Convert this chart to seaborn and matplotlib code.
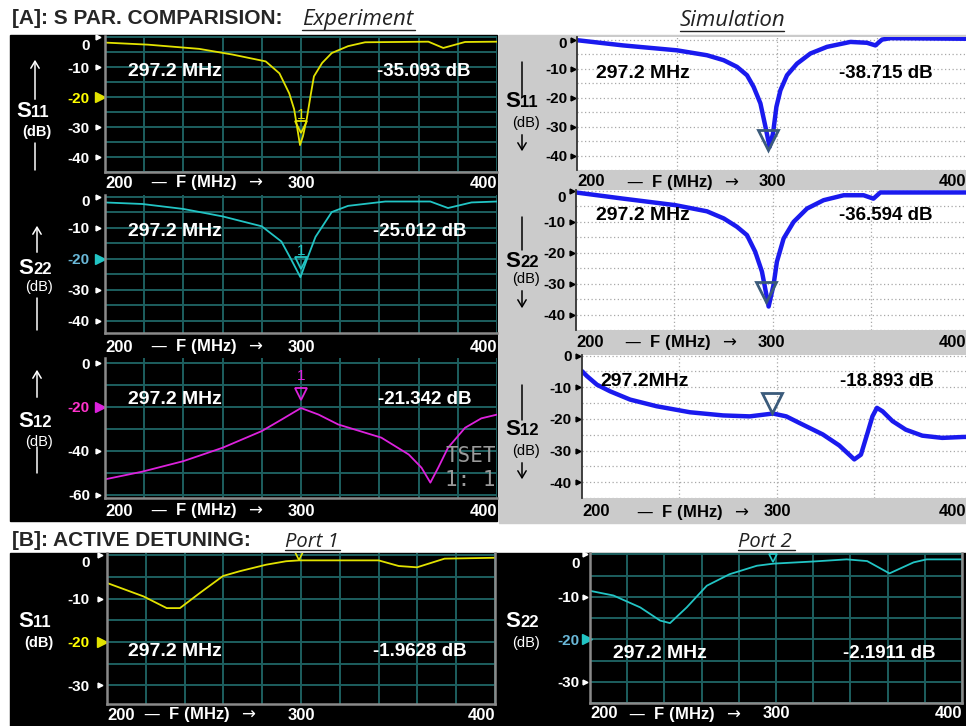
import numpy as np
import pandas as pd
import matplotlib
matplotlib.use("Agg")
import matplotlib.pyplot as plt
import matplotlib.transforms as mtransforms
from matplotlib.patches import Rectangle
import seaborn as sns

sns.set_style("white")
plt.rcParams['font.family'] = ['Liberation Sans', 'DejaVu Sans']

# ---- traces (MHz, dB) ----
exp_s11_f = [200, 222, 248, 265, 282, 289, 294, 296.5, 298.5, 299.5, 301, 303, 305, 306.6,
             310.8, 315.7, 324, 332.7, 365, 372.6, 383.7, 400]
exp_s11_db = [-1.7, -2.4, -3.8, -5.7, -8, -12, -18.7, -24, -32, -36, -33, -27, -19, -13,
              -8.5, -5.2, -2.9, -1.6, -1.4, -3.5, -1.5, -1.4]

exp_s22_f = [200, 219, 240, 260, 280, 290, 295, 299.7, 303, 307.4, 315.7, 324, 343, 366,
             375, 387, 400]
exp_s22_db = [-1.9, -2.4, -4, -6.4, -9.6, -14.5, -20.3, -26, -20.3, -13, -5, -3, -1.6, -1.6,
              -3.7, -1.9, -1.6]

exp_s12_f = [200, 219, 240, 260, 280, 290, 300, 309, 319, 341, 355, 361.5, 366, 370, 375,
             383.7, 392, 400]
exp_s12_db = [-53, -49.5, -44.7, -38.6, -31, -25.8, -20.5, -23.5, -28, -34, -41.7, -47.7,
              -54.5, -47.7, -38.6, -29.5, -25.2, -23.5]

sim_s11_f = [200, 223, 250, 265, 273.3, 280, 285, 288.3, 291.7, 294.2, 296.3, 298, 299.7,
             301.7, 305, 310, 316.7, 325, 336.7, 345, 349.2, 352.5, 356.7, 393.3, 400]
sim_s11_db = [-0.2, -2, -3.7, -5.4, -7.1, -9.4, -12.3, -16.3, -22, -30, -37, -32.4, -23.2,
              -17.5, -12.3, -8.3, -4.8, -2.5, -0.8, -1.1, -2, 0, 0.5, 0.3, 0.3]

sim_s22_f = [200, 224, 250.4, 266.5, 275, 281.7, 286.8, 291, 294.4, 297.8, 300.3, 302,
             305.4, 310.5, 317.3, 325.7, 335.9, 346, 351, 354.5, 396.8, 400]
sim_s22_db = [-0.5, -2.5, -4.6, -6.6, -8.9, -11.6, -14.3, -19.7, -26.1, -37.4, -30.4, -22.9,
              -15.4, -10, -5.7, -3, -1.4, -1.4, -2.5, -0.5, -0.5, -0.5]

sim_s12_f = [200, 202.6, 207.7, 214.5, 224.7, 238.3, 255.4, 272.4, 286, 298, 304.8, 311.6,
             323.5, 332, 339.7, 343.1, 346.5, 349, 351.3, 354.2, 359.3, 366.1, 374.6, 384.8,
             395.9, 400]
sim_s12_db = [-4.9, -6.5, -9.2, -11.3, -13.9, -16, -17.9, -18.9, -19.2, -18.3, -19.2, -21.3,
              -24.9, -28.4, -32.8, -31.3, -24.4, -19.2, -16.5, -17.6, -20.7, -23.4, -25.3,
              -26, -25.7, -25.7]

port1_f = [200, 218.8, 230.8, 237.6, 247.9, 259.8, 268.4, 282, 292.3, 299, 340, 350.4,
           359.8, 374, 400]
port1_db = [-6.4, -9.5, -12.2, -12.2, -8.7, -4.8, -3.7, -2.2, -1.4, -1.2, -1.2, -2.5, -2.8,
            -0.8, -0.6]

port2_f = [200, 212.6, 227, 237.7, 243, 252, 262.8, 275, 289.7, 298.7, 320, 338, 349, 361,
           374, 381, 400]
port2_db = [-8.6, -9.7, -12.5, -15.6, -16.2, -12.5, -7.4, -4.7, -2.7, -2.2, -1.7, -1.2,
            -1.6, -4.5, -1.9, -1.2, -1.2]

# marker positions (MHz, dB)
exp_mk_f = [300, 300, 300]
exp_mk_db = [-30, -21.5, -14]
sim_mk_f = [295.3, 296.4, 297.3]
sim_mk_db = [-34.7, -32.7, -15.1]
det_mk_f = [299, 298.6]
det_mk_db = [-0.3, -0.8]

# marker readouts
freq_txt = ['297.2 MHz', '297.2 MHz', '297.2 MHz', '297.2 MHz', '297.2 MHz', '297.2MHz',
            '297.2 MHz', '297.2 MHz']
level_txt = ['-35.093 dB', '-25.012 dB', '-21.342 dB', '-38.715 dB', '-36.594 dB',
             '-18.893 dB', '-1.9628 dB', '-2.1911 dB']

W, H = 966, 726
fig = plt.figure(figsize=(W / 100, H / 100), dpi=100)


def box(x0, y0, x1, y1):
    return [x0 / W, 1 - y1 / H, (x1 - x0) / W, (y1 - y0) / H]


back = fig.add_axes([0, 0, 1, 1], zorder=-10)
front = fig.add_axes([0, 0, 1, 1], zorder=10)
for a in (back, front):
    a.set_xlim(0, W)
    a.set_ylim(H, 0)
    a.axis('off')

back.add_patch(Rectangle((10, 35), 487, 486, color='black'))
back.add_patch(Rectangle((499, 35), 467, 488, color='#cbcbcb'))
back.add_patch(Rectangle((10, 553), 956, 173, color='black'))

GRID = '#1d5f5f'


def panel(rect, f, db, ylim, yticks, dark, color, xlim=(200, 400), ystep=5, hl=None,
          hl_color=None, zero_dy=0, pad=15, tri=7.5, xl_dy=12, f_mid=252, x300=300,
          right_spine=False):
    ax = fig.add_axes(box(*rect))
    df = pd.DataFrame({'MHz': f, 'dB': db})
    sns.lineplot(data=df, x='MHz', y='dB', ax=ax, color=color,
                 lw=1.3 if dark else 3.2)
    ax.set_xlim(*xlim)
    ax.set_ylim(*ylim)
    ax.set_xlabel('')
    ax.set_ylabel('')
    tc = 'white' if dark else 'black'
    if dark:
        ax.set_facecolor('black')
        ax.set_xticks(np.arange(200, 401, 20))
        gkw = dict(color=GRID, lw=1.4)
    else:
        ax.set_facecolor('white')
        ax.set_xticks([250, 300, 350])
        gkw = dict(color='#a8a8a8', lw=0.9, ls=(0, (1, 2)))
    ax.set_xticklabels([])
    labels = ['' if (t == 0 and zero_dy) else str(t) for t in yticks]
    ax.set_yticks(yticks, labels=labels)
    minor = np.arange(np.ceil(ylim[0] / ystep) * ystep, ylim[1] + 0.01, ystep)
    ax.set_yticks(minor, minor=True)
    ax.grid(which='both', axis='both', **gkw)
    ax.tick_params(which='both', length=0)
    ax.tick_params(axis='y', pad=pad * 0.72, labelsize=11, labelcolor=tc)
    for lbl in ax.get_yticklabels():
        lbl.set_fontweight('bold')
        if hl is not None and lbl.get_text() == str(hl):
            lbl.set_color(hl_color)
    if zero_dy:
        ax.annotate('0', xy=(0, 0), xycoords=ax.get_yaxis_transform(),
                    xytext=(-pad * 0.72, -zero_dy * 0.72), textcoords='offset points',
                    ha='right', va='center', fontsize=11, weight='bold', color=tc,
                    annotation_clip=False)
    # little triangle tick marks
    tt = mtransforms.offset_copy(ax.get_yaxis_transform(), fig=fig, x=-tri, units='dots')
    small = [t for t in yticks if t != hl]
    ax.plot(np.zeros(len(small)), small, '>', ls='none', color=tc, ms=3.5,
            transform=tt, clip_on=False)
    if hl is not None:
        ht = mtransforms.offset_copy(ax.get_yaxis_transform(), fig=fig, x=-tri + 2,
                                     units='dots')
        ax.plot([0], [hl], '>', color=color, ms=7, transform=ht, clip_on=False)
    for s in ax.spines.values():
        s.set_visible(False)
    if dark:
        for side in ['left', 'bottom'] + (['right'] if right_spine else []):
            ax.spines[side].set_visible(True)
            ax.spines[side].set_color('#8a8a8a')
            ax.spines[side].set_linewidth(1.8)
    else:
        ax.spines['left'].set_visible(True)
        ax.spines['left'].set_color('#333333')
        ax.spines['left'].set_linewidth(1.3)
    # frequency axis labels
    for x, s, ha in [(xlim[0], '200', 'left'), (x300, '300', 'center'),
                     (xlim[1], '400', 'right'),
                     (f_mid, r'—  F (MHz)  $\rightarrow$', 'center')]:
        ax.annotate(s, xy=(x, 0), xycoords=('data', 'axes fraction'),
                    xytext=(0, -xl_dy * 0.72), textcoords='offset points', ha=ha,
                    va='center', fontsize=12, weight='bold', color=tc,
                    annotation_clip=False)
    return ax


YEL, YEL_L = '#e2e200', '#ffff00'
CYA, CYA_L = '#22c4c4', '#6ab8d8'
MAG, MAG_L = '#dd22dd', '#ff33cc'
BLUE, MK = '#1a1aee', '#3b5b7b'

ax1 = panel((105, 36, 497, 172), exp_s11_f, exp_s11_db, (-45, 0.5), [0, -10, -20, -30, -40],
            True, YEL, hl=-20, hl_color=YEL_L, zero_dy=9, xl_dy=11)
ax2 = panel((105, 195, 497, 333), exp_s22_f, exp_s22_db, (-44, 0.5), [0, -10, -20, -30, -40],
            True, CYA, hl=-20, hl_color=CYA_L, zero_dy=5, xl_dy=14)
ax3 = panel((105, 358, 497, 498), exp_s12_f, exp_s12_db, (-61.5, 2.3), [0, -20, -40, -60],
            True, MAG, ystep=10, hl=-20, hl_color=MAG_L, xl_dy=13)
ax4 = panel((577, 37, 966, 170), sim_s11_f, sim_s11_db, (-45, 0.9), [0, -10, -20, -30, -40],
            False, BLUE, xlim=(200, 394.5), zero_dy=4, pad=10, tri=4.5, f_mid=253, x300=297.5)
ax5 = panel((576, 190, 966, 330), sim_s22_f, sim_s22_db, (-45, 0.3), [0, -10, -20, -30, -40],
            False, BLUE, xlim=(200, 398), zero_dy=7, pad=10, tri=4.5, f_mid=253, x300=299)
ax6 = panel((582, 355, 966, 498), sim_s12_f, sim_s12_db, (-45, 0.2), [0, -10, -20, -30, -40],
            False, BLUE, xlim=(200, 397), pad=10, tri=4.5, xl_dy=14, f_mid=257)
ax7 = panel((107, 553, 495, 704), port1_f, port1_db, (-34.3, 0.5), [0, -10, -20, -30],
            True, YEL, hl=-20, hl_color=YEL_L, zero_dy=8, pad=17, xl_dy=11, f_mid=248,
            right_spine=True)
ax8 = panel((590, 553, 962, 703), port2_f, port2_db, (-35, 0.3), [0, -10, -20, -30],
            True, CYA, hl=-20, hl_color=CYA_L, zero_dy=10, pad=10, tri=5, xl_dy=11,
            f_mid=251, right_spine=True)

# markers
for ax, c, mf, md in zip([ax1, ax2, ax3], [YEL, CYA, MAG], exp_mk_f, exp_mk_db):
    ax.plot([mf], [md], 'v', mfc='none', mec=c, ms=8, mew=1.3)
    ax.text(mf, md + (4 if ax is not ax3 else 8), '1', color=c, ha='center', va='center',
            fontsize=11)
for ax, mf, md in zip([ax4, ax5, ax6], sim_mk_f, sim_mk_db):
    ax.plot([mf], [md], 'v', mfc='none', mec=MK, ms=14, mew=2)
for ax, c, mf, md in zip([ax7, ax8], [YEL, CYA], det_mk_f, det_mk_db):
    ax.plot([mf], [md], 'v', mfc='none', mec=c, ms=6, mew=1.2)

ax3.text(373.5, -38, 'TSET\n1: 1', family='DejaVu Sans Mono', color='#9a9a9a',
         fontsize=15, va='top', ha='left', clip_on=True)

# readouts
read_pos = [(128, 72, 377), (128, 232, 373), (128, 399, 378), (596, 73, 839),
            (596, 216, 839), (600, 382, 840), (128, 651, 373), (613, 653, 843)]
for i, (xf, yy, xl) in enumerate(read_pos):
    c = 'black' if 3 <= i <= 5 else 'white'
    front.text(xf, yy, freq_txt[i], color=c, fontsize=14, weight='bold', va='center')
    front.text(xl, yy, level_txt[i], color=c, fontsize=13.5, weight='bold', va='center')

# axis names
def s_label(x, yb, sub, ydb, c, dbw='normal', arrow=None):
    front.text(x, yb, 'S', ha='right', va='baseline', fontsize=16, weight='bold', color=c)
    front.text(x, yb, sub, ha='left', va='baseline', fontsize=12, weight='bold', color=c)
    front.text(x + 6, ydb, '(dB)', ha='center', va='center', fontsize=10.5, weight=dbw,
               color=c)
    if arrow is None:
        return
    xa, a0, a1, l0, l1 = arrow
    front.annotate('', xy=(xa, a1), xytext=(xa, a0),
                   arrowprops=dict(arrowstyle='->,head_length=0.5,head_width=0.3',
                                   color=c, lw=1.1))
    front.plot([xa, xa], [l0, l1], color=c, lw=1.1)


s_label(31, 117, '11', 132, 'white', 'bold', (35, 102, 57, 143, 170))
s_label(33, 274, '22', 287, 'white', 'normal', (37, 255, 223, 298, 330))
s_label(33, 427, '12', 442, 'white', 'normal', (37, 400, 367, 447, 473))
s_label(520, 107, '11', 123, 'black', 'normal', (522, 132, 154, 62, 97))
s_label(520, 267, '22', 279, 'black', 'normal', (522, 288, 311, 217, 250))
s_label(520, 435, '12', 451, 'black', 'normal', (522, 460, 482, 385, 420))
s_label(33, 627, '11', 643, 'white', 'bold')
s_label(520, 627, '22', 643, 'white', 'normal')

# headings
front.text(12, 19, '[A]: S PAR. COMPARISION:', fontsize=15, weight='bold', va='center')
front.text(12, 541, '[B]: ACTIVE DETUNING:', fontsize=15, weight='bold', va='center')
heads = [('Experiment', 302, 19, 415, 30, 16), ('Simulation', 680, 20, 784, 31, 16),
         ('Port 1', 285, 542, 340, 550, 14.5), ('Port 2', 738, 542, 795, 550, 14.5)]
for s, x0, yy, x1, yu, fs in heads:
    front.text(x0, yy, s, family='Open Sans', style='italic', fontsize=fs, va='center',
               color='#222222')
    front.plot([x0, x1], [yu, yu], color='#222222', lw=1)

fig.savefig('out.png', dpi=100)
